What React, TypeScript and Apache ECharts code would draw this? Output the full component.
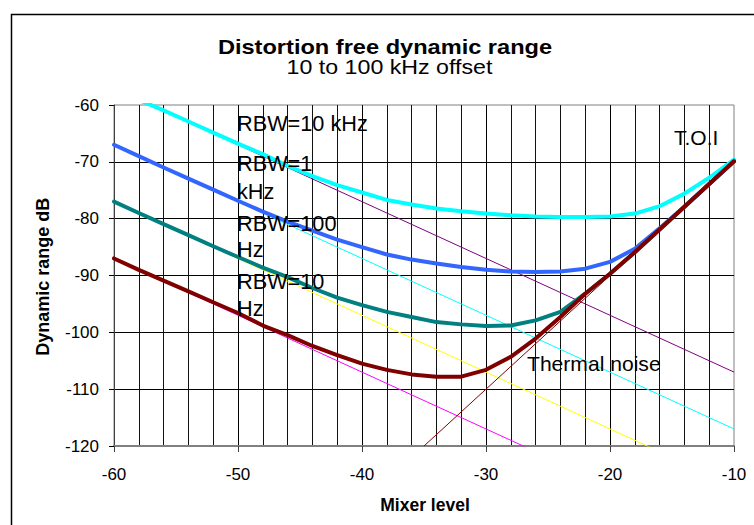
import React, { useEffect, useRef } from "react";
import * as echarts from "echarts";

// Mixer level (x) sample points, dB
const mixerLevels = [-60, -58, -56, -54, -52, -50, -48, -46, -44, -42, -40, -38, -36, -34, -32, -30, -28, -26, -24, -22, -20, -18, -16, -14, -12, -10];

// Thick curves: distortion free dynamic range per RBW
const rbw10kHz = [-57.1, -59.1, -60.95, -62.9, -64.85, -66.8, -68.65, -70.7, -72.5, -74.1, -75.4, -76.7, -77.5, -78.2, -78.7, -79.1, -79.4, -79.6, -79.7, -79.7, -79.6, -79.1, -77.8, -75.6, -72.8, -69.6];
const rbw1kHz = [-67, -69, -71, -72.95, -74.9, -76.85, -78.75, -80.5, -82.1, -83.7, -85.0, -86.3, -87.2, -87.9, -88.5, -89.0, -89.3, -89.4, -89.3, -88.8, -87.6, -85.3, -81.7, -77.9, -73.9, -69.9];
const rbw100Hz = [-77, -79, -80.95, -82.9, -84.85, -86.75, -88.6, -90.3, -92.2, -93.9, -95.2, -96.4, -97.3, -98.2, -98.6, -98.9, -98.8, -97.9, -96.4, -93.2, -89.7, -85.9, -81.9, -77.9, -73.9, -69.9];
const rbw10Hz = [-87, -89, -90.9, -92.8, -94.7, -96.6, -98.8, -100.5, -102.4, -104.0, -105.5, -106.6, -107.4, -107.8, -107.8, -106.6, -104.3, -101.1, -97.3, -93.2, -89.7, -85.9, -81.9, -77.9, -73.9, -69.9];

// Thin straight lines: thermal noise per RBW (end points)
const noiseX = [-60, -10];
const noise10kHz = [-57, -107];
const noise1kHz = [-67, -117];
const noise100Hz = [-77, -127];
const noise10Hz = [-87, -137];

// Thin straight line: third order intermodulation (end points)
const toiX = [-35, -10];
const toiValues = [-120, -70];

// Axis ranges
const xRange = [-60, -10];
const yRange = [-120, -60];

// Texts
const titleText = "Distortion free dynamic range";
const subtitleText = "10 to 100 kHz offset";
const xName = "Mixer level";
const yName = "Dynamic range dB";
const curveLabels = ["RBW=10 kHz", "RBW=1", "kHz", "RBW=100", "Hz", "RBW=10", "Hz"];
const noiseLabel = "Thermal noise";
const toiLabel = "T.O.I";

const FONT = "'Liberation Sans', Arial, Helvetica, sans-serif";

function pairs(xs: number[], ys: number[]) {
  return xs.map((x, i) => [x, ys[i]]);
}

export default function App() {
  const ref = useRef<HTMLDivElement>(null);

  useEffect(() => {
    if (!ref.current) return;
    const chart = echarts.init(ref.current, undefined, { renderer: "svg" });

    const thin = (name: string, xs: number[], ys: number[], color: string) => ({
      name,
      type: "line",
      data: pairs(xs, ys),
      showSymbol: false,
      symbol: "none",
      z: 2,
      lineStyle: { color, width: 1 },
      clip: true,
    });
    const thick = (name: string, ys: number[], color: string) => ({
      name,
      type: "line",
      data: pairs(mixerLevels, ys),
      showSymbol: false,
      symbol: "none",
      z: 3,
      lineStyle: { color, width: 4, join: "round", cap: "round" },
      clip: true,
    });

    const labelYs = [123.5, 163, 191.5, 223, 249, 281.5, 308];

    chart.setOption({
      animation: false,
      backgroundColor: "#ffffff",
      grid: {
        left: 114,
        right: 20,
        top: 105,
        bottom: 79,
        show: true,
        borderColor: "#808080",
        borderWidth: 1,
        backgroundColor: "transparent",
        containLabel: false,
      },
      xAxis: {
        type: "value",
        min: xRange[0],
        max: xRange[1],
        interval: 10,
        axisLine: { show: true, onZero: false, lineStyle: { color: "#808080", width: 2 } },
        axisTick: { show: true, length: 6, lineStyle: { color: "#404040", width: 1 } },
        axisLabel: { fontSize: 17, color: "#000", margin: 20, fontFamily: FONT },
        splitLine: { show: true, showMinLine: false, showMaxLine: false, lineStyle: { color: "#000", width: 1 } },
        minorTick: { show: false, splitNumber: 5 },
        minorSplitLine: { show: true, lineStyle: { color: "#111", width: 1 } },
      },
      yAxis: {
        type: "value",
        min: yRange[0],
        max: yRange[1],
        interval: 10,
        axisLine: { show: true, onZero: false, lineStyle: { color: "#404040", width: 1 } },
        axisTick: { show: true, length: 5, lineStyle: { color: "#000", width: 1 } },
        axisLabel: { fontSize: 17, color: "#000", margin: 15, fontFamily: FONT },
        splitLine: { show: true, showMinLine: false, showMaxLine: false, lineStyle: { color: "#000", width: 1 } },
      },
      series: [
        thin("Noise RBW=10 kHz", noiseX, noise10kHz, "#800080"),
        thin("Noise RBW=1 kHz", noiseX, noise1kHz, "#00FFFF"),
        thin("Noise RBW=100 Hz", noiseX, noise100Hz, "#FFFF00"),
        thin("Noise RBW=10 Hz", noiseX, noise10Hz, "#FF00FF"),
        thin("T.O.I", toiX, toiValues, "#800000"),
        thick("RBW=10 kHz", rbw10kHz, "#00FFFF"),
        thick("RBW=1 kHz", rbw1kHz, "#3366FF"),
        thick("RBW=100 Hz", rbw100Hz, "#008080"),
        thick("RBW=10 Hz", rbw10Hz, "#800000"),
      ],
      graphic: [
        {
          type: "rect",
          shape: { x: 11.5, y: 14.5, width: 800, height: 600 },
          style: { fill: "none", stroke: "#000", lineWidth: 1.5 },
          z: 100,
          silent: true,
        },
        {
          type: "text",
          x: 385,
          y: 46.7,
          scaleX: 1.18,
          z: 100,
          style: { text: titleText, fontSize: 20, fontWeight: "bold", fontFamily: FONT, fill: "#000", align: "center", verticalAlign: "middle" },
        },
        {
          type: "text",
          x: 389.5,
          y: 67,
          scaleX: 1.16,
          z: 100,
          style: { text: subtitleText, fontSize: 20, fontFamily: FONT, fill: "#000", align: "center", verticalAlign: "middle" },
        },
        {
          type: "text",
          x: 42.5,
          y: 276.7,
          rotation: Math.PI / 2,
          z: 100,
          style: { text: yName, fontSize: 18, fontWeight: "bold", fontFamily: FONT, fill: "#000", align: "center", verticalAlign: "middle" },
        },
        {
          type: "text",
          x: 425,
          y: 505,
          z: 100,
          style: { text: xName, fontSize: 17.5, fontWeight: "bold", fontFamily: FONT, fill: "#000", align: "center", verticalAlign: "middle" },
        },
        ...curveLabels.map((t, i) => ({
          type: "text",
          x: 237,
          y: labelYs[i],
          z: 100,
          style: { text: t, fontSize: 21.7, fontFamily: FONT, fill: "#000", align: "left", verticalAlign: "middle" },
        })),
        {
          type: "text",
          x: 527,
          y: 363,
          z: 100,
          style: { text: noiseLabel, fontSize: 21.1, fontFamily: FONT, fill: "#000", align: "left", verticalAlign: "middle" },
        },
        {
          type: "text",
          x: 674,
          y: 137,
          z: 100,
          style: { text: toiLabel, fontSize: 21, fontFamily: FONT, fill: "#000", align: "left", verticalAlign: "middle" },
        },
      ],
    });

    return () => chart.dispose();
  }, []);

  return (
    <div
      ref={ref}
      style={{ position: "fixed", left: 0, top: 0, width: 754, height: 525, background: "#fff" }}
    />
  );
}
